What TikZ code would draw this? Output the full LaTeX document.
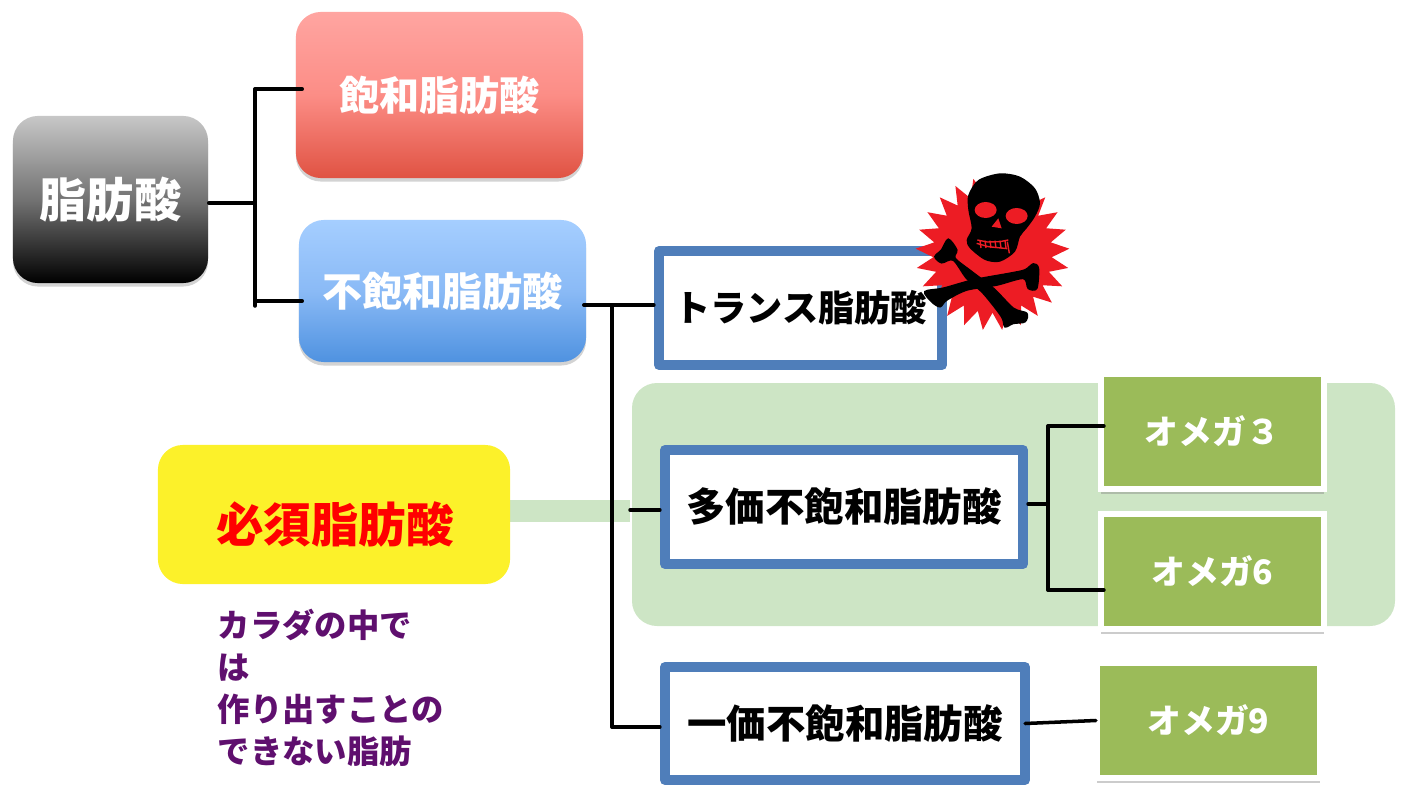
\documentclass[tikz,border=0pt]{standalone}
\usepackage{fontspec}
\setmainfont{Noto Sans CJK JP}
\usetikzlibrary{shapes.geometric}
\usetikzlibrary{shadows}
\definecolor{panelgreen}{HTML}{CDE5C5}
\definecolor{leafgreen}{HTML}{9BBB59}
\definecolor{frameblue}{HTML}{4F7EBA}
\definecolor{noteyellow}{HTML}{FCF12A}
\definecolor{notepurple}{HTML}{5F0F6E}
\definecolor{burstred}{HTML}{ED1C24}
\definecolor{redtop}{HTML}{FFA5A1}
\definecolor{redmid}{HTML}{FC8D86}
\definecolor{redlow}{HTML}{E05343}
\definecolor{bluetop}{HTML}{A5CEFF}
\definecolor{bluemid}{HTML}{8ABAF6}
\definecolor{bluelow}{HTML}{4F92E0}
\tikzset{softbox/.style = {rectangle, rounded corners=.25cm, text=white,
                           font=\bfseries\fontsize{11.4}{14}\selectfont,
                           drop shadow={opacity=.35, shadow xshift=0pt, shadow yshift=-1pt}}}
\tikzset{framebox/.style = {rectangle, draw=frameblue, line width=.1cm, fill=white, line join=round,
                            font=\bfseries\fontsize{11.2}{14}\selectfont}}
\tikzset{leafbox/.style = {rectangle, draw=white, line width=.06cm, fill=leafgreen, text=white,
                           minimum width=2.23cm, minimum height=1.15cm,
                           font=\bfseries\fontsize{9.6}{12}\selectfont,
                           drop shadow={opacity=.4, shadow xshift=0pt, shadow yshift=-1.3pt}}}
\tikzset{link/.style = {line width=1pt, line cap=round}}
\begin{document}
\begin{tikzpicture}[x=.01cm, y=-.01cm]
		\useasboundingbox (0,0) rectangle (1403,785);
		\fill [panelgreen, rounded corners=.25cm] (632,383) rectangle (1395,626);
		\fill [panelgreen] (510,500) rectangle (630,522);
		\node [softbox, top color=black!22, bottom color=black, middle color=black!55, minimum width=1.95cm, minimum height=1.67cm, font=\bfseries\fontsize{13.4}{16}\selectfont] (fatty) at (110.5,199.5) {脂肪酸};
		\node [softbox, top color=redtop, bottom color=redlow, middle color=redmid, minimum width=2.87cm, minimum height=1.66cm] (saturated) at (439.5,95) {飽和脂肪酸};
		\node [softbox, top color=bluetop, bottom color=bluelow, middle color=bluemid, minimum width=2.87cm, minimum height=1.42cm] (unsaturated) at (442.5,291) {不飽和脂肪酸};
		\node [framebox, minimum width=2.83cm, minimum height=1.14cm, font=\bfseries\fontsize{10.3}{14}\selectfont] (trans) at (800.5,308) {トランス脂肪酸};
		\node [framebox, minimum width=3.58cm, minimum height=1.14cm] (poly) at (844,507) {多価不飽和脂肪酸};
		\node [framebox, minimum width=3.60cm, minimum height=1.13cm] (mono) at (845,723.5) {一価不飽和脂肪酸};
		\node [leafbox] (omega3) at (1212.5,431.5) {オメガ３};
		\node [leafbox] (omega6) at (1212.5,571.5) {オメガ6};
		\node [leafbox] (omega9) at (1208.5,720.5) {オメガ9};
		\node [rectangle, fill=noteyellow, rounded corners=.25cm, minimum width=3.52cm, minimum height=1.39cm] (essential) at (334,514.5) {};
		\node [text=red, font=\bfseries\fontsize{13.5}{16}\selectfont] (essentiallabel) at (335,524) {必須脂肪酸};
		\node [anchor=west, align=left, inner sep=0pt, text=notepurple, font=\bfseries\fontsize{9.2}{12}\selectfont] (remark) at (217,688) {カラダの中で\\は\\作り出すことの\\できない脂肪};
		\coordinate (rootjoin) at (255,203);
		\coordinate (roottop) at (255,89);
		\coordinate (rootbottom) at (255,306);
		\coordinate (rootbranch) at (255,301);
		\coordinate (unsatjoin) at (612,305);
		\coordinate (polystart) at (630,510);
		\coordinate (monojoin) at (612,727);
		\coordinate (leafjoin) at (1048,504);
		\coordinate (leaftop) at (1048,426);
		\coordinate (leafbottom) at (1048,590);
		\draw [link] (fatty.east |- rootjoin) to (rootjoin);
		\draw [link] (roottop) to (rootbottom);
		\draw [link] (roottop) to ([xshift=.07cm]saturated.west |- roottop);
		\draw [link] (rootbranch) to ([xshift=.04cm]unsaturated.west |- rootbranch);
		\draw [link] ([xshift=-.03cm]unsaturated.east |- unsatjoin) to (trans.west |- unsatjoin);
		\draw [link] (unsatjoin) to (monojoin);
		\draw [link] (monojoin) to (mono.west |- monojoin);
		\draw [link] (polystart) to (poly.west |- polystart);
		\draw [link] (poly.east |- leafjoin) to (leafjoin);
		\draw [link] (leaftop) to (leafbottom);
		\draw [link] (leaftop) to ([xshift=.06cm]omega3.west |- leaftop);
		\draw [link] (leafbottom) to ([xshift=.06cm]omega6.west |- leafbottom);
		\draw [link] ([xshift=-.05cm]mono.east) to ([xshift=.02cm]omega9.west);
		\node [star, star points=25, star point ratio=1.3, fill=burstred, inner sep=0pt, minimum size=1.54cm] (burst) at (992.5,253.5) {};
		\begin{scope}[shift={(900,160)}, scale=.3333]
			\fill [black] plot [smooth cycle] coordinates {(300,40) (360,50) (405,85) (420,130) (405,170) (380,205) (360,230) (345,275) (300,305) (255,300) (210,265) (200,240) (215,205) (205,150) (205,105) (235,60)};
			\fill [burstred] (257,150) ellipse (33 and 24);
			\fill [burstred] (350,168) ellipse (33 and 24);
			\fill [burstred] (295,175) -- (275,200) -- (305,205) -- cycle;
			\draw [burstred, line width=.4pt] (232,240) -- (262,246) -- (300,245) -- (325,240);
			\draw [burstred, line width=.4pt] (230,250) -- (265,260) -- (322,266);
			\foreach \x in {240,255,270,285,300,315}
				\draw [burstred, line width=.4pt] (\x,242) -- (\x+3,264);
			\draw [burstred, line width=.4pt] (322,245) -- (328,280);
			\filldraw [black, line width=.5pt] plot [smooth cycle, tension=.5] coordinates {(145,238) (170,270) (165,295) (215,335) (280,385) (340,445) (380,460) (375,485) (340,490) (315,500) (305,470) (250,400) (200,355) (160,300) (125,308) (105,290) (125,270)};
			\filldraw [black, line width=.5pt] plot [smooth cycle, tension=.5] coordinates {(75,395) (130,385) (220,360) (330,340) (375,330) (400,312) (415,325) (410,385) (385,385) (370,355) (290,375) (200,390) (140,420) (120,440) (95,425)};
		\end{scope}
	\end{tikzpicture}
\end{document}
